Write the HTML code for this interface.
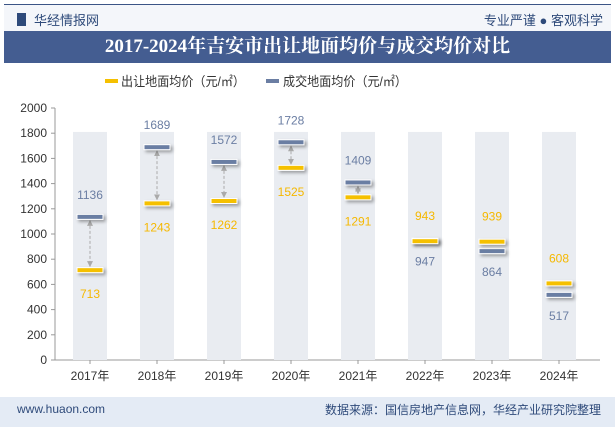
<!DOCTYPE html>
<html><head><meta charset="utf-8"><style>
body{margin:0;width:615px;height:427px;overflow:hidden;background:#fff;font-family:"Liberation Sans","Noto Sans CJK SC",sans-serif;position:relative}
.a{position:absolute}
</style></head><body>
<div class="a" style="left:4px;top:4px;width:607px;height:27px;background:#f4f6fa;border-top:1px solid #3b5486"></div>
<div class="a" style="left:17px;top:13px;width:9px;height:13px;background:#2e4a7a"></div>
<div class="a" style="left:34px;top:10px;font-size:13px;color:#2e4a7a">华经情报网</div>
<div class="a" style="right:12px;top:10px;font-size:13px;color:#2e4a7a">专业严谨 ● 客观科学</div>
<div class="a" style="left:4px;top:31px;width:607px;height:32px;background:#445d91;color:#fff;font:bold 19px 'Liberation Serif','Noto Serif CJK SC',serif;text-align:center;line-height:32px">2017-2024年吉安市出让地面均价与成交均价对比</div>
<svg class="a" style="left:0;top:0" width="615" height="427" id="c"></svg>
<div class="a" style="left:0;top:397px;width:615px;height:30px;background:#e4ebf5"></div>
<div class="a" style="left:17px;top:402px;font-size:12px;color:#2e4a7a">www.huaon.com</div>
<div class="a" style="right:14px;top:401px;font-size:12px;color:#2e4a7a">数据来源：国信房地产信息网，华经产业研究院整理</div>
<script>
const categories=["2017年","2018年","2019年","2020年","2021年","2022年","2023年","2024年"];
const offerPrice=[713,1243,1262,1525,1291,943,939,608];
const dealPrice=[1136,1689,1572,1728,1409,947,864,517];
const bgValue=1810;
const yTicks=[0,200,400,600,800,1000,1200,1400,1600,1800,2000];
const svg=document.getElementById('c');const NS='http://www.w3.org/2000/svg';
const y=v=>360-v*(252/2000);const x=i=>90+i*67;
function mk(t,a,p){const e=document.createElementNS(NS,t);for(const k in a)e.setAttribute(k,a[k]);(p||svg).appendChild(e);return e;}
const defs=mk('defs',{});
const f=mk('filter',{id:'sh',x:'-20%',y:'-100%',width:'150%',height:'400%'},defs);
mk('feDropShadow',{dx:2,dy:2,stdDeviation:1.5,'flood-color':'#000','flood-opacity':0.35},f);
const m=mk('marker',{id:'ar',markerWidth:6,markerHeight:6,refX:5,refY:3,orient:'auto-start-reverse'},defs);
mk('path',{d:'M0,0L6,3L0,6Z',fill:'#aaa'},m);
// legend
let l=mk('rect',{x:105,y:79,width:13,height:4,fill:'#f5c000'});
l=mk('text',{x:121,y:86,'font-size':13,fill:'#333',textLength:124,lengthAdjust:'spacingAndGlyphs'});l.textContent='出让地面均价（元/㎡）';
l=mk('rect',{x:266,y:79,width:13,height:4,fill:'#6b7ea3'});
l=mk('text',{x:283,y:86,'font-size':13,fill:'#333',textLength:124,lengthAdjust:'spacingAndGlyphs'});l.textContent='成交地面均价（元/㎡）';
// axis
let ax=mk('line',{x1:55,x2:55,y1:y(2000),y2:360,stroke:'#999'});
ax=mk('line',{x1:55,x2:600,y1:360,y2:360,stroke:'#999'});
yTicks.forEach(v=>{mk('line',{x1:51,x2:55,y1:y(v),y2:y(v),stroke:'#999'});const t=mk('text',{x:47,y:y(v)+4,'font-size':12,'text-anchor':'end',fill:'#333'});t.textContent=v;});
categories.forEach((c,i)=>{
 const cx=x(i);
 let r=mk('rect',{x:cx-17,y:y(bgValue),width:34,height:360-y(bgValue),fill:'#e9ecf1'});
 mk('line',{x1:cx,x2:cx,y1:360,y2:364,stroke:'#999'});
 const t=mk('text',{x:cx,y:380,'font-size':12,'text-anchor':'middle',fill:'#333'});t.textContent=c;
 const o=offerPrice[i],d=dealPrice[i];
 const up=d-o>50;
 if(up){
  let a=mk('line',{x1:cx,x2:cx,y1:y(d)+4,y2:y(o)-4,stroke:'#aaa','stroke-dasharray':'3,2','marker-end':'url(#ar)','marker-start':'url(#ar)'});}
 r=mk('rect',{x:cx-13,y:y(d)-2.5,width:26,height:5,fill:'#6b7ea3',stroke:'#fff','stroke-width':1,filter:'url(#sh)'});
 r=mk('rect',{x:cx-13,y:y(o)-2.5,width:26,height:5,fill:'#f5c000',stroke:'#fff','stroke-width':1,filter:'url(#sh)'});
 let lb=mk('text',{x:cx,y:up?y(d)-18:y(d)+25,'font-size':12,'text-anchor':'middle',fill:'#6b7ea3'});lb.textContent=d;
 lb=mk('text',{x:cx,y:up?y(o)+28:y(o)-21,'font-size':12,'text-anchor':'middle',fill:'#f5b800'});lb.textContent=o;
});
</script>
</body></html>
